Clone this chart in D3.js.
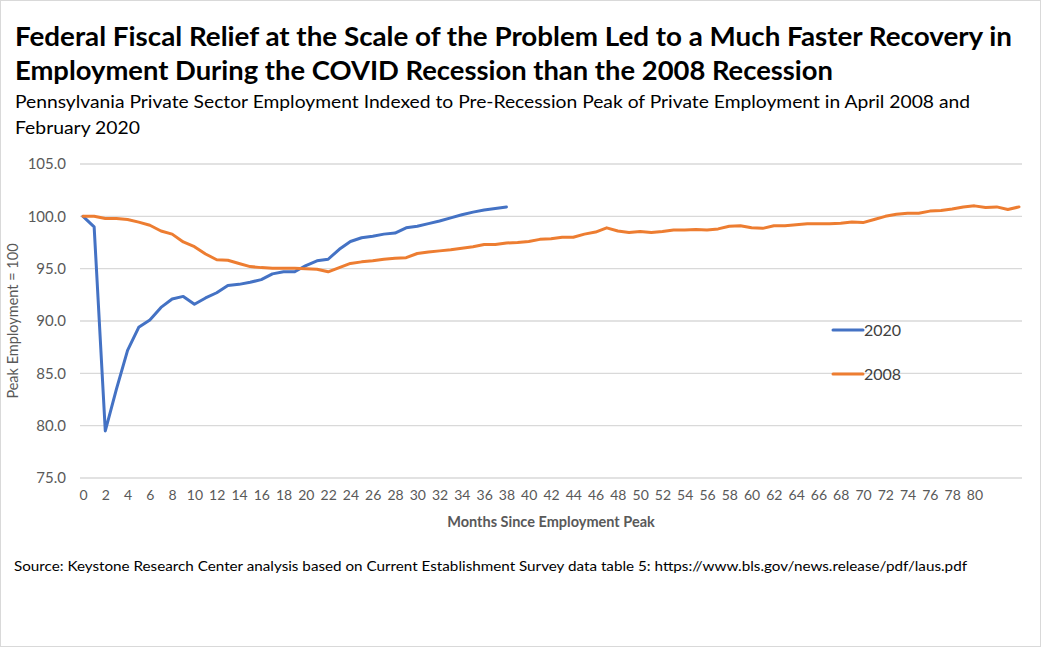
<!DOCTYPE html>
<html>
<head>
<meta charset="utf-8">
<script src="https://cdn.jsdelivr.net/npm/d3@7"></script>
<style>
  body { margin: 0; background: #fff; }
  svg { font-family: Lato, "Open Sans", sans-serif; }
</style>
</head>
<body>
<script>
// months since employment peak (0..84)
const months = d3.range(0, 85);

// 2020 index, months 0..38
const series2020 = [
  100.0, 99.0, 79.5, 83.5, 87.2, 89.4, 90.1, 91.3, 92.1, 92.35,
  91.6, 92.2, 92.7, 93.4, 93.5, 93.7, 93.95, 94.5, 94.7, 94.7,
  95.3, 95.75, 95.9, 96.85, 97.6, 97.95, 98.1, 98.3, 98.4, 98.9,
  99.05, 99.3, 99.55, 99.85, 100.15, 100.4, 100.6, 100.75, 100.9
];

// 2008 index, months 0..84
const series2008 = [
  100.0, 100.0, 99.8, 99.8, 99.7, 99.45, 99.15, 98.6, 98.3, 97.55,
  97.1, 96.4, 95.85, 95.8, 95.5, 95.2, 95.1, 95.05, 95.05, 95.05,
  95.0, 94.95, 94.7, 95.1, 95.5, 95.65, 95.75, 95.9, 96.0, 96.05,
  96.45, 96.6, 96.7, 96.8, 96.95, 97.1, 97.3, 97.3, 97.45, 97.5,
  97.6, 97.8, 97.85, 98.0, 98.0, 98.3, 98.5, 98.9, 98.6, 98.45,
  98.55, 98.45, 98.55, 98.7, 98.7, 98.75, 98.7, 98.8, 99.05, 99.1,
  98.9, 98.85, 99.1, 99.1, 99.2, 99.3, 99.3, 99.3, 99.35, 99.45,
  99.4, 99.7, 100.0, 100.2, 100.3, 100.3, 100.5, 100.55, 100.7, 100.9,
  101.0, 100.85, 100.9, 100.65, 100.9
];

const yTicks = [75, 80, 85, 90, 95, 100, 105];
const xTicks = d3.range(0, 81, 2);

const seriesList = [
  { name: "2020", values: series2020, color: "#4472C4" },
  { name: "2008", values: series2008, color: "#ED7D31" }
];

const width = 1043, height = 650;

const x = d3.scaleLinear().domain([0, 84]).range([83, 1019]);
const y = d3.scaleLinear().domain([75, 105]).range([478, 164]);

const svg = d3.select("body").append("svg")
  .attr("width", width)
  .attr("height", height);

// outer border
svg.append("rect")
  .attr("x", 0.5).attr("y", 0.5)
  .attr("width", width - 3).attr("height", height - 4)
  .attr("fill", "#fff")
  .attr("stroke", "#d9d9d9");

// titles
const title = svg.append("g").attr("font-weight", "bold").attr("fill", "#000").attr("font-size", 26);
title.append("text").attr("x", 15).attr("y", 46)
  .attr("textLength", 997).attr("lengthAdjust", "spacingAndGlyphs")
  .text("Federal Fiscal Relief at the Scale of the Problem Led to a Much Faster Recovery in");
title.append("text").attr("x", 15).attr("y", 80)
  .attr("textLength", 818).attr("lengthAdjust", "spacingAndGlyphs")
  .text("Employment During the COVID Recession than the 2008 Recession");

const sub = svg.append("g").attr("fill", "#000").attr("font-size", 17);
sub.append("text").attr("x", 15).attr("y", 108)
  .attr("textLength", 955).attr("lengthAdjust", "spacingAndGlyphs")
  .text("Pennsylvania Private Sector Employment Indexed to Pre-Recession Peak of Private Employment in April 2008 and");
sub.append("text").attr("x", 15).attr("y", 134)
  .attr("textLength", 125).attr("lengthAdjust", "spacingAndGlyphs")
  .text("February 2020");

// gridlines
svg.append("g")
  .selectAll("line")
  .data(yTicks)
  .join("line")
  .attr("x1", 80).attr("x2", 1022)
  .attr("y1", d => y(d)).attr("y2", d => y(d))
  .attr("stroke", "#d9d9d9")
  .attr("stroke-width", 1.3);

// y axis labels
const yAxis = svg.append("g")
  .attr("transform", "translate(66,0)")
  .call(d3.axisLeft(y).tickValues(yTicks).tickFormat(d3.format(".1f")).tickSize(0).tickPadding(0));
yAxis.select(".domain").remove();
yAxis.selectAll("text").attr("font-size", 15).attr("fill", "#595959").attr("font-family", "Lato, sans-serif");

// x axis labels
const xAxis = svg.append("g")
  .attr("transform", "translate(0,490)")
  .call(d3.axisBottom(x).tickValues(xTicks).tickFormat(d3.format("d")).tickSize(0).tickPadding(0));
xAxis.select(".domain").remove();
xAxis.selectAll("text").attr("font-size", 14).attr("fill", "#595959").attr("font-family", "Lato, sans-serif");

// axis titles
svg.append("text")
  .attr("x", 551).attr("y", 527)
  .attr("text-anchor", "middle")
  .attr("font-size", 14.5).attr("font-weight", "bold").attr("fill", "#595959")
  .text("Months Since Employment Peak");

svg.append("text")
  .attr("transform", "translate(18,321) rotate(-90)")
  .attr("text-anchor", "middle")
  .attr("font-size", 14.5).attr("fill", "#595959")
  .text("Peak Employment = 100");

// lines
const line = d3.line()
  .x((d, i) => x(months[i]))
  .y(d => y(d));

svg.append("g")
  .selectAll("path")
  .data(seriesList)
  .join("path")
  .attr("d", d => line(d.values))
  .attr("fill", "none")
  .attr("stroke", d => d.color)
  .attr("stroke-width", 3)
  .attr("stroke-linejoin", "round")
  .attr("stroke-linecap", "round");

// legend
const legend = svg.append("g")
  .selectAll("g")
  .data(seriesList)
  .join("g")
  .attr("transform", (d, i) => `translate(833,${330 + i * 44})`);
legend.append("line")
  .attr("x1", 0).attr("x2", 30)
  .attr("stroke", d => d.color)
  .attr("stroke-width", 3)
  .attr("stroke-linecap", "round");
legend.append("text")
  .attr("x", 31).attr("y", 6)
  .attr("font-size", 16).attr("fill", "#404040")
  .text(d => d.name);

// source
svg.append("text")
  .attr("x", 14).attr("y", 571)
  .attr("font-size", 13.5).attr("fill", "#000")
  .attr("textLength", 953).attr("lengthAdjust", "spacingAndGlyphs")
  .text("Source: Keystone Research Center analysis based on Current Establishment Survey data table 5: https://www.bls.gov/news.release/pdf/laus.pdf");
</script>
</body>
</html>
